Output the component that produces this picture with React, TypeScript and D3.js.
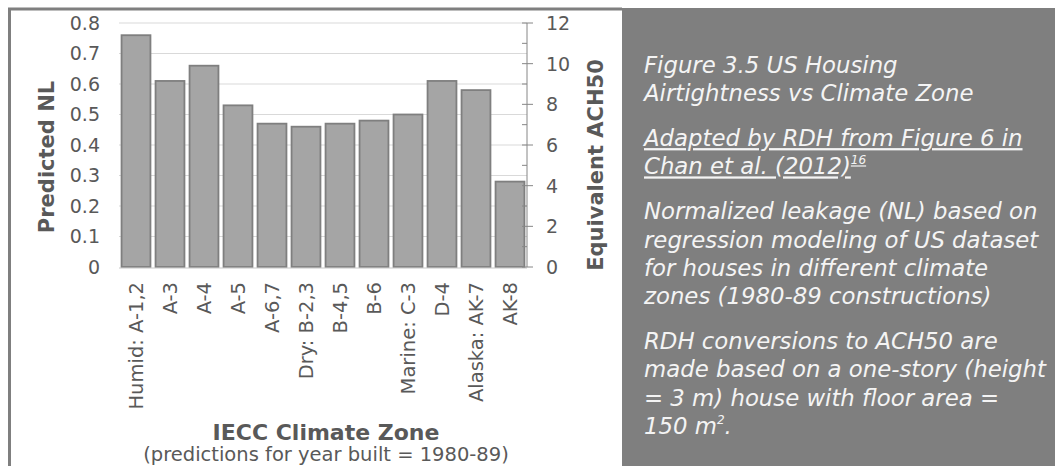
import React from "react";
import * as d3 from "d3";

const categories = [
  "Humid: A-1,2", "A-3", "A-4", "A-5", "A-6,7", "Dry: B-2,3",
  "B-4,5", "B-6", "Marine: C-3", "D-4", "Alaska: AK-7", "AK-8",
];
const predictedNL = [0.76, 0.61, 0.66, 0.53, 0.47, 0.46, 0.47, 0.48, 0.5, 0.61, 0.58, 0.28];
const nlTicks = [0, 0.1, 0.2, 0.3, 0.4, 0.5, 0.6, 0.7, 0.8];
const achMajorTicks = [0, 2, 4, 6, 8, 10, 12];
const achMinorTicks = [1, 3, 5, 7, 9, 11];

const leftTitle = "Predicted NL";
const rightTitle = "Equivalent ACH50";
const xTitle = "IECC Climate Zone";
const xSubtitle = "(predictions for year built = 1980-89)";

const captionTitle = ["Figure 3.5 US Housing", "Airtightness vs Climate Zone"];
const captionSource = [["Adapted by RDH from Figure 6 in", ""], ["Chan et al. (2012)", "16"]];
const captionNote1 = [
  "Normalized leakage (NL) based on",
  "regression modeling of US dataset",
  "for houses in different climate",
  "zones (1980-89 constructions)",
];
const captionNote2 = [
  ["RDH conversions to ACH50 are", ""],
  ["made based on a one-story (height", ""],
  ["= 3 m) house with floor area =", ""],
  ["150 m", "2", "."],
];

const W = 1055;
const H = 466;
const plot = { left: 119, right: 527, top: 23, bottom: 267 };
const FONT = "'DejaVu Sans', sans-serif";
const TXT = "#595959";

export default function App() {
  const x = d3
    .scaleBand<string>()
    .domain(categories)
    .range([plot.left, plot.right])
    .paddingInner(0.15)
    .paddingOuter(0.075);
  const y = d3.scaleLinear().domain([0, 0.8]).range([plot.bottom, plot.top]);
  const y2 = d3.scaleLinear().domain([0, 12]).range([plot.bottom, plot.top]);
  const fmt = d3.format("~g");

  const lineH = 28.3;
  const paraGap = 16.5;
  const panelX = 644;
  const rows: { text: string; sup?: string; tail?: string; y: number; underline?: boolean }[] = [];
  let base = 73;
  captionTitle.forEach((t) => { rows.push({ text: t, y: base }); base += lineH; });
  base = rows[rows.length - 1].y + lineH + paraGap;
  captionSource.forEach(([t, s]) => { rows.push({ text: t, sup: s, y: base, underline: true }); base += lineH; });
  base = rows[rows.length - 1].y + lineH + paraGap;
  captionNote1.forEach((t) => { rows.push({ text: t, y: base }); base += lineH; });
  base = rows[rows.length - 1].y + lineH + paraGap;
  captionNote2.forEach(([t, s, tail]) => { rows.push({ text: t, sup: s, tail, y: base }); base += lineH; });

  return (
    <div style={{ position: "absolute", left: 0, top: 0 }}>
      <svg width={W} height={H} style={{ display: "block" }}>
        <rect x={0} y={0} width={W} height={H} fill="#ffffff" />
        {/* chart frame */}
        <line x1={8} x2={622} y1={9} y2={9} stroke="#7f7f7f" strokeWidth={3} />
        <line x1={9.5} x2={9.5} y1={8} y2={H} stroke="#7f7f7f" strokeWidth={3} />
        {/* caption panel */}
        <rect x={622} y={8} width={W - 622} height={H - 8} fill="#7f7f7f" />

        {/* gridlines */}
        {nlTicks.filter((t) => t > 0).map((t) => (
          <line key={"g" + t} x1={plot.left} x2={plot.right} y1={y(t)} y2={y(t)} stroke="#d9d9d9" strokeWidth={1} />
        ))}

        {/* bars */}
        {predictedNL.map((v, i) => (
          <rect
            key={categories[i]}
            x={x(categories[i])}
            y={y(v)}
            width={x.bandwidth()}
            height={y(0) - y(v)}
            fill="#a5a5a5"
            stroke="#7f7f7f"
            strokeWidth={1.8}
          />
        ))}
        <line x1={plot.left} x2={plot.right} y1={y(0) + 1} y2={y(0) + 1} stroke="#c8c8c8" strokeWidth={1} />

        {/* right axis */}
        <line x1={plot.right} x2={plot.right} y1={y2(12)} y2={y2(0)} stroke="#868686" strokeWidth={1} />
        {achMajorTicks.map((t) => (
          <line key={"M" + t} x1={plot.right - 5} x2={plot.right + 6} y1={y2(t)} y2={y2(t)} stroke="#868686" strokeWidth={1} />
        ))}
        {achMinorTicks.map((t) => (
          <line key={"m" + t} x1={plot.right - 5} x2={plot.right} y1={y2(t)} y2={y2(t)} stroke="#868686" strokeWidth={1} />
        ))}

        {/* left tick labels */}
        {nlTicks.map((t) => (
          <text key={"l" + t} x={100} y={y(t)} dy="0.36em" textAnchor="end" fontFamily={FONT} fontSize={19} fill={TXT}>
            {fmt(t)}
          </text>
        ))}
        {/* right tick labels */}
        {achMajorTicks.map((t) => (
          <text key={"r" + t} x={546} y={y2(t)} dy="0.36em" textAnchor="start" fontFamily={FONT} fontSize={19} fill={TXT}>
            {t}
          </text>
        ))}

        {/* category labels */}
        {categories.map((c) => (
          <text
            key={"c" + c}
            transform={`translate(${(x(c) as number) + x.bandwidth() / 2},282) rotate(-90)`}
            textAnchor="end"
            dy="0.36em"
            fontFamily={FONT}
            fontSize={19.5}
            fill={TXT}
          >
            {c}
          </text>
        ))}

        {/* axis titles */}
        <text transform="translate(54,157) rotate(-90)" textAnchor="middle" fontFamily={FONT} fontWeight="bold" fontSize={21} fill={TXT}>
          {leftTitle}
        </text>
        <text transform="translate(603,165) rotate(-90)" textAnchor="middle" fontFamily={FONT} fontWeight="bold" fontSize={21} fill={TXT}>
          {rightTitle}
        </text>
        <text x={326} y={440} textAnchor="middle" fontFamily={FONT} fontWeight="bold" fontSize={22} fill={TXT}>
          {xTitle}
        </text>
        <text x={326} y={461} textAnchor="middle" fontFamily={FONT} fontSize={19.5} fill={TXT}>
          {xSubtitle}
        </text>

        {/* caption text */}
        {rows.map((r, i) => (
          <text
            key={"t" + i}
            x={panelX}
            y={r.y}
            fontFamily={FONT}
            fontStyle="italic"
            fontSize={22.8}
            fill="#f4f4f4"
            textDecoration={r.underline ? "underline" : undefined}
          >
            {r.text}
            {r.sup ? (
              <tspan fontSize={12} dy={-10}>{r.sup}</tspan>
            ) : null}
            {r.tail ? <tspan dy={10}>{r.tail}</tspan> : null}
          </text>
        ))}
      </svg>
    </div>
  );
}
